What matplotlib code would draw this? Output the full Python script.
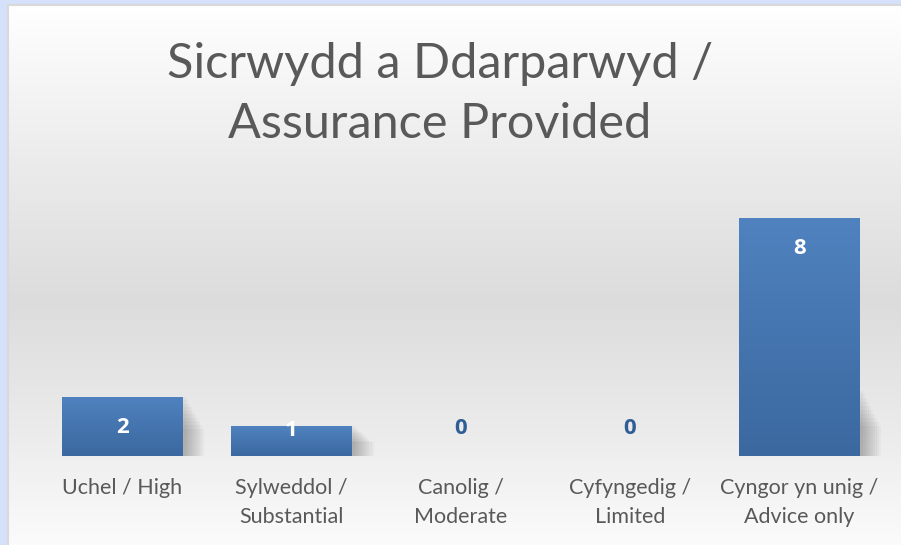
import numpy as np
import matplotlib.pyplot as plt
from matplotlib.patches import Rectangle
from matplotlib.lines import Line2D
from matplotlib.colors import LinearSegmentedColormap

# Data
categories = ["Uchel / High", "Sylweddol /\nSubstantial", "Canolig /\nModerate",
              "Cyfyngedig /\nLimited", "Cyngor yn unig /\nAdvice only"]
values = [2, 1, 0, 0, 8]
title = "Sicrwydd a Ddarparwyd /\nAssurance Provided"

W, H = 901, 545
fig = plt.figure(figsize=(W / 100, H / 100), dpi=100)
fig.patch.set_facecolor("#d5e1fa")

# chart area background (vertical grey gradient)
bg_ax = fig.add_axes([8 / W, 0, 1 - 8 / W, 1 - 5 / H])
bg_ax.set_axis_off()
stops = [(0.0, "#fbfbfb"), (0.2, "#ececec"), (0.45, "#dcdcdc"), (0.72, "#ececec"), (1.0, "#ffffff")]
bg_cmap = LinearSegmentedColormap.from_list("bg", stops)
grad = np.linspace(0, 1, 256).reshape(-1, 1)
bg_ax.imshow(grad, aspect="auto", cmap=bg_cmap, extent=[0, 1, 0, 1], origin="lower")
bg_ax.set_xlim(0, 1)
bg_ax.set_ylim(0, 1)
# only the top and left border are visible in the crop
bg_ax.add_line(Line2D([0, 0, 1], [0, 1, 1], color="#d9d9d9", lw=1.5,
                      transform=bg_ax.transAxes, clip_on=False))

# plot axes: baseline at y=456px, 10 units -> 297.5px
x0, x1 = 37.5, 884.0
y0, y1 = H - 456, H - 456 + 297.5
ax = fig.add_axes([x0 / W, y0 / H, (x1 - x0) / W, (y1 - y0) / H])
ax.patch.set_alpha(0)
ax.set_xlim(-0.5, 4.5)
ax.set_ylim(0, 10)
for s in ax.spines.values():
    s.set_visible(False)
ax.set_yticks([])

x = np.arange(len(categories))
bar_w = 0.714
bars = ax.bar(x, values, width=bar_w, color="none", edgecolor="none", zorder=3)

bar_cmap = LinearSegmentedColormap.from_list("bar", ["#3b689f", "#4f82bf"])
for b in bars:
    h = b.get_height()
    if h <= 0:
        continue
    bx, bw = b.get_x(), b.get_width()
    # soft shadow to the lower right
    sh_h = min(h, 2.2)
    for i in range(10):
        ax.add_patch(Rectangle((bx + 0.02 + i * 0.012, 0), bw, sh_h * (1 - i * 0.06),
                               color="black", alpha=0.028, lw=0, zorder=2))
    im = ax.imshow(grad, aspect="auto", cmap=bar_cmap, origin="lower",
                   extent=[bx, bx + bw, 0, h], zorder=3)
    im.set_clip_path(b)

# value labels
for xi, v in zip(x, values):
    if v > 0:
        h_px = v * 29.75
        off = min(31, h_px - 25)
        ax.annotate(str(v), (xi, v), xytext=(0, -off * 0.72), textcoords="offset points",
                    ha="center", va="center", color="white", fontsize=16,
                    fontweight="bold", family="Open Sans", zorder=5)
    else:
        ax.annotate(str(v), (xi, 0), xytext=(0, 27 * 0.72), textcoords="offset points",
                    ha="center", va="center", color="#2f5d96", fontsize=16,
                    fontweight="bold", family="Open Sans", zorder=5)

ax.set_xticks(x)
ax.set_xticklabels(categories, fontsize=15.5, color="#595959", family="Lato",
                   linespacing=1.55)
ax.tick_params(axis="x", length=0, pad=16)
ax.set_xlim(-0.5, 4.5)

fig.text(440 / W, 1 - 94 / H, title, ha="center", va="center", fontsize=35,
         color="#595959", family="Lato", linespacing=1.45)

fig.savefig("out.png", dpi=100)
